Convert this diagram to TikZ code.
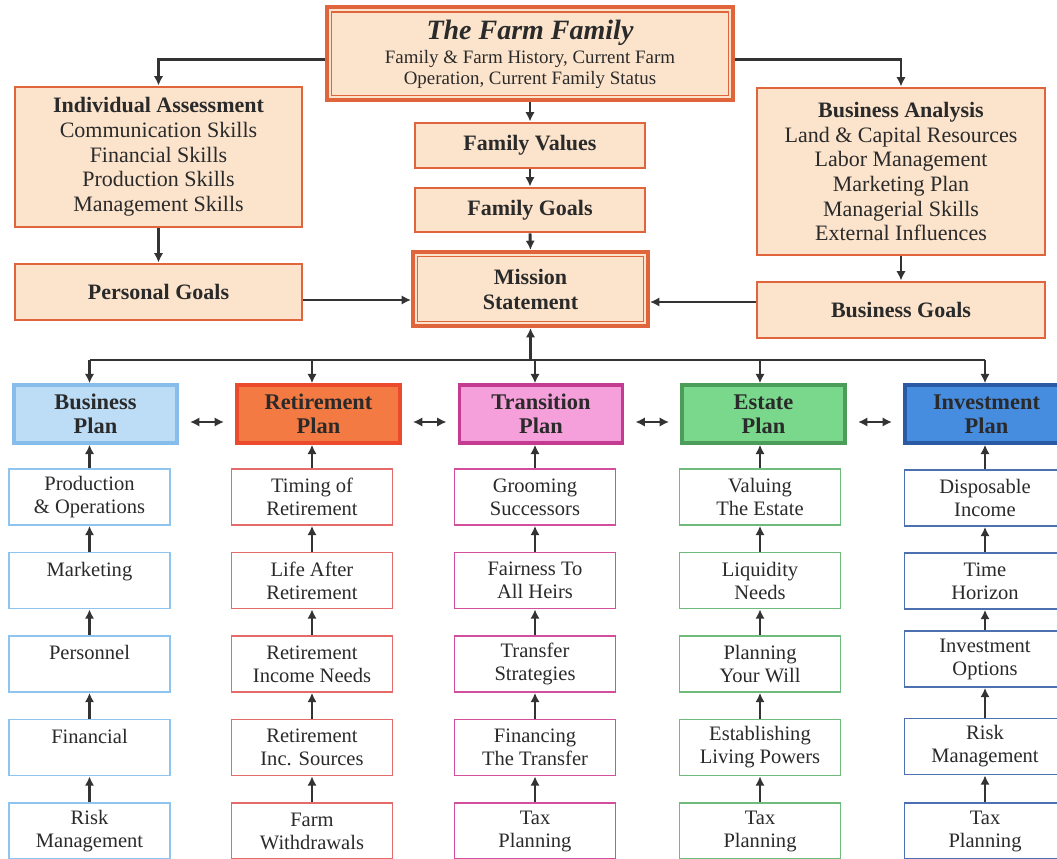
\documentclass[tikz,border=0pt]{standalone}
\usepackage{fontspec}
\setmainfont{Liberation Serif}
\usetikzlibrary{arrows.meta,calc}
\definecolor{farmfill}{HTML}{FCE4CC}
\definecolor{farmline}{HTML}{E0643C}
\definecolor{bizfill}{HTML}{BDDDF6}
\definecolor{bizline}{HTML}{86BDEB}
\definecolor{retfill}{HTML}{F47A43}
\definecolor{retline}{HTML}{EC4A2C}
\definecolor{trnfill}{HTML}{F5A0DA}
\definecolor{trnline}{HTML}{C43C92}
\definecolor{estfill}{HTML}{7AD88C}
\definecolor{estline}{HTML}{4C9C5A}
\definecolor{invfill}{HTML}{468CDF}
\definecolor{invline}{HTML}{2B5AA4}
\definecolor{bizsub}{HTML}{8EC5F0}
\definecolor{retsub}{HTML}{E56A6A}
\definecolor{trnsub}{HTML}{D24F9E}
\definecolor{estsub}{HTML}{6EBB7C}
\definecolor{invsub}{HTML}{4D70B0}
\definecolor{arrowgray}{HTML}{333333}
\definecolor{textgray}{HTML}{2A2A2A}

\begin{document}
\begin{tikzpicture}[x=0.75pt, y=-0.75pt,
    farmbox/.style={draw=farmline, fill=farmfill, line width=2.2pt, inner sep=0pt,
        align=center, text=textgray, font=\fontsize{16.5}{18.5}\selectfont},
    farmhead/.style={farmbox, font=\fontsize{16.5}{18.75}\selectfont\bfseries},
    planbox/.style={line width=2.6pt, minimum width=122.25pt, minimum height=43.5pt,
        inner sep=0pt, align=center, text=textgray, font=\fontsize{16.8}{18}\selectfont\bfseries},
    subbox/.style={fill=white, line width=1.3pt, minimum width=120.75pt, minimum height=42pt,
        inner sep=0pt, align=center, text=textgray, font=\fontsize{15.4}{17.25}\selectfont},
    arr/.style={draw=arrowgray, line width=2.2pt, -{Latex[length=7pt,width=7pt]}},
    dblarr/.style={arr, {Latex[length=7pt,width=7pt]}-{Latex[length=7pt,width=7pt]}},
    busline/.style={draw=arrowgray, line width=2.2pt}]
\useasboundingbox (0,0) rectangle (1057,859);
\clip (0,0) rectangle (1057,859);

% The family box on top
\node[farmbox, line width=3pt, minimum width=304.5pt, minimum height=69.75pt,
      font=\fontsize{14.2}{15.75}\selectfont] (farm) at (530,54)
  {{\fontsize{21}{22}\selectfont\bfseries\itshape The Farm Family}\\[2.25pt]
   Family \& Farm History, Current Farm\\Operation, Current Family Status};
\draw[farmline, line width=1pt] ([xshift=5pt,yshift=-5pt]farm.north west)
  rectangle ([xshift=-5pt,yshift=5pt]farm.south east);

% Left and right branches
\node[farmbox, minimum width=215.25pt, minimum height=105pt] (indiv) at (158.5,157)
  {\textbf{Individual Assessment}\\Communication Skills\\Financial Skills\\Production Skills\\Management Skills};
\node[farmhead, minimum width=215.25pt, minimum height=42pt] (pgoals) at (158.5,292) {Personal Goals};
\node[farmbox, minimum width=216pt, minimum height=125.25pt] (bana) at (901,171.5)
  {\textbf{Business Analysis}\\Land \& Capital Resources\\Labor Management\\Marketing Plan\\Managerial Skills\\External Influences};
\node[farmhead, minimum width=216pt, minimum height=42pt] (bgoals) at (901,310) {Business Goals};

% Middle column
\node[farmhead, minimum width=172.5pt, minimum height=33.75pt] (fvalues) at (530,145.5) {Family Values};
\node[farmhead, minimum width=172.5pt, minimum height=33pt] (fgoals) at (530,210) {Family Goals};
\node[farmhead, line width=3pt, minimum width=176.25pt, minimum height=55.5pt] (mission) at (530.5,289) {Mission\\Statement};
\draw[farmline, line width=1pt] ([xshift=5pt,yshift=-5pt]mission.north west)
  rectangle ([xshift=-5pt,yshift=5pt]mission.south east);

% Plans
\foreach \k/\x/\fcol/\lcol/\txt in {b/95.5/bizfill/bizline/Business, r/318.5/retfill/retline/Retirement,
    t/541/trnfill/trnline/Transition, e/763.5/estfill/estline/Estate, i/986.5/invfill/invline/Investment}
  \node[planbox, draw=\lcol, fill=\fcol] (\k plan) at (\x,414) {\txt\\Plan};

% Steps under each plan
\foreach \r/\y/\txt in {1/497/{Production\\\& Operations}, 2/580.5/{Marketing\\~}, 3/664/{Personnel\\~},
    4/747.5/{Financial\\~}, 5/831/{Risk\\Management}}
  \node[subbox, draw=bizsub] (b\r) at (89.5,\y) {\txt};
\foreach \r/\y/\txt in {1/497/{Timing of\\Retirement}, 2/580.5/{Life After\\Retirement}, 3/664/{Retirement\\Income Needs},
    4/747.5/{Retirement\\Inc. Sources}, 5/831/{Farm\\Withdrawals}}
  \node[subbox, draw=retsub] (r\r) at (312,\y) {\txt};
\foreach \r/\y/\txt in {1/497/{Grooming\\Successors}, 2/580.5/{Fairness To\\All Heirs}, 3/664/{Transfer\\Strategies},
    4/747.5/{Financing\\The Transfer}, 5/831/{Tax\\Planning}}
  \node[subbox, draw=trnsub] (t\r) at (535,\y) {\txt};
\foreach \r/\y/\txt in {1/497/{Valuing\\The Estate}, 2/580.5/{Liquidity\\Needs}, 3/664/{Planning\\Your Will},
    4/747.5/{Establishing\\Living Powers}, 5/831/{Tax\\Planning}}
  \node[subbox, draw=estsub] (e\r) at (760,\y) {\txt};
\foreach \r/\y/\txt in {1/498/{Disposable\\Income}, 2/581/{Time\\Horizon}, 3/659/{Investment\\Options},
    4/746.5/{Risk\\Management}, 5/831/{Tax\\Planning}}
  \node[subbox, draw=invsub] (i\r) at (985,\y) {\txt};

% Arrows in the upper part
\draw[arr] ([yshift=-4pt]farm.west) -| (indiv.north);
\draw[arr] ([yshift=-4pt]farm.east) -| (bana.north);
\draw[arr] (farm.south) -- (fvalues.north);
\draw[arr] (fvalues.south) -- (fgoals.north);
\draw[arr] (fgoals.south) -- (mission.north);
\draw[arr] (indiv.south) -- (pgoals.north);
\draw[arr] (bana.south) -- (bgoals.north);
\draw[arr] (pgoals.east |- 0,300) -- (mission.west |- 0,300);
\draw[arr] (bgoals.west |- 0,302) -- (mission.east |- 0,302);

% Bus line and arrows up the columns
\draw[busline] (b1.north |- 0,360) -- (i1.north |- 0,360);
\draw[arr] (mission.south |- 0,360) -- (mission.south);
\foreach \k in {b,r,t,e,i} {
  \draw[arr] (\k1.north |- 0,360) -- (\k1.north |- \k plan.north);
  \draw[arr] (\k1.north) -- (\k1.north |- \k plan.south);
  \foreach \a/\b in {2/1,3/2,4/3,5/4}
    \draw[arr] (\k\a.north) -- (\k\b.south);
}
\foreach \a/\b in {b/r,r/t,t/e,e/i}
  \draw[dblarr] ([yshift=-6pt]$(\a plan.east)!0.2!(\b plan.west)$) -- ([yshift=-6pt]$(\a plan.east)!0.8!(\b plan.west)$);
\end{tikzpicture}
\end{document}
